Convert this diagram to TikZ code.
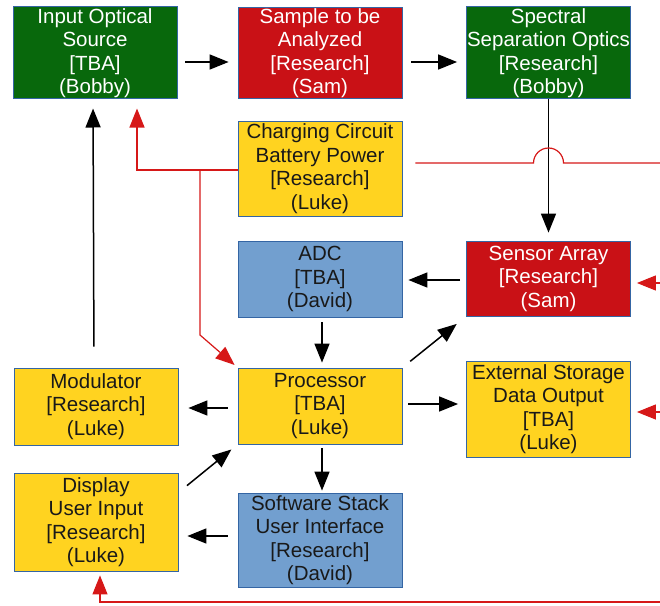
\documentclass[tikz,border=0pt]{standalone}
\usepackage{fontspec}
\setmainfont{Liberation Sans}
\usetikzlibrary{arrows.meta, positioning, calc}

\definecolor{boxgreen}{RGB}{8,104,12}
\definecolor{boxred}{RGB}{201,17,22}
\definecolor{boxyellow}{RGB}{255,211,32}
\definecolor{boxblue}{RGB}{114,159,207}
\definecolor{boxline}{RGB}{52,101,164}
\definecolor{powerred}{RGB}{214,24,24}

\begin{document}
\begin{tikzpicture}[
    x=1pt, y=-1pt,
    block/.style={rectangle, draw=boxline, line width=0.8pt, minimum width=164pt, inner sep=0pt, align=center, font=\fontsize{20.5}{23.5}\selectfont},
    greenbox/.style={block, fill=boxgreen, text=white},
    redbox/.style={block, fill=boxred, text=white},
    yellowbox/.style={block, fill=boxyellow, text=black!90},
    bluebox/.style={block, fill=boxblue, text=black!90},
    arrow/.style={-{Triangle[length=19pt,width=15pt]}, line width=1.5pt},
    power/.style={-{Triangle[length=19pt,width=15pt]}, line width=1.2pt, draw=powerred}
]
\useasboundingbox (0,0) rectangle (660,605);

% ==== Optical path ====
\node[greenbox, minimum height=91pt] (input) at (95,52.5) {\strut Input Optical\\Source\\{}[TBA]\\(Bobby)};
\node[redbox, minimum height=91pt] (sample) at (320,52.5) {\strut Sample to be\\Analyzed\\{}[Research]\\(Sam)};
\node[greenbox, minimum height=91pt] (spectral) at (548.5,52.5) {\strut Spectral\\Separation Optics\\{}[Research]\\(Bobby)};

% ==== Power ====
\node[yellowbox, minimum height=95pt] (charge) at (320,168.5) {Charging Circuit\\Battery Power\\{}[Research]\\(Luke)};

% ==== Sensing ====
\node[bluebox, minimum height=76pt] (adc) at (320,279) {ADC\\{}[TBA]\\(David)};
\node[redbox, minimum height=75pt] (sensor) at (548.5,278.5) {Sensor Array\\{}[Research]\\(Sam)};

% ==== Processing ====
\node[yellowbox, minimum height=77pt] (mod) at (96,406.5) {Modulator\\{}[Research]\\(Luke)};
\node[yellowbox, minimum height=76pt] (proc) at (320,406) {Processor\\{}[TBA]\\(Luke)};
\node[yellowbox, minimum height=96pt] (ext) at (548.5,409) {External Storage\\Data Output\\{}[TBA]\\(Luke)};

% ==== User side ====
\node[yellowbox, minimum height=98pt] (disp) at (96,522) {Display\\User Input\\{}[Research]\\(Luke)};
\node[bluebox, minimum height=94pt] (soft) at (320,540) {Software Stack\\User Interface\\{}[Research]\\(David)};

% ==== Relations ====
\draw[arrow, shorten <=8pt, shorten >=9pt] ([yshift=-9.5pt]input.east) -- ([yshift=-9.5pt]sample.west);
\draw[arrow, shorten <=9pt, shorten >=9pt] ([yshift=-9.5pt]sample.east) -- ([yshift=-9.5pt]spectral.west);
\draw[arrow, shorten >=8pt] (spectral.south) -- (sensor.north);
\draw[arrow, shorten <=6pt, shorten >=6pt] ([yshift=-1.5pt]sensor.west) -- ([yshift=-1.5pt]sensor.west -| adc.east);
\draw[arrow, shorten <=5pt, shorten >=5pt] ([xshift=2pt]adc.south) -- ([xshift=2pt]proc.north);
\draw[arrow, shorten <=10pt, shorten >=12pt] (proc.north east) -- (sensor.south west);
\draw[arrow, shorten <=6pt, shorten >=8pt] ([yshift=2pt]proc.east) -- ([yshift=2pt]proc.east -| ext.west);
\draw[arrow, shorten <=10pt, shorten >=10pt] ([yshift=-2pt]proc.west) -- ([yshift=-2pt]proc.west -| mod.east);
\draw[arrow, shorten <=4pt, shorten >=2pt] ([xshift=2pt]proc.south) -- ([xshift=2pt]soft.north);
\draw[arrow, shorten <=10pt, shorten >=9pt] ([yshift=4pt]soft.west) -- ([yshift=4pt]soft.west -| disp.east);
\draw[arrow, shorten <=11pt, shorten >=8pt] ([yshift=-20pt]disp.north east) -- (proc.south west);
\draw[arrow, shorten <=21pt, shorten >=10pt] ([xshift=-2pt]mod.north) -- ([xshift=-2pt]input.south);

% ==== Power lines ====
\coordinate (tap) at (200,335);
\coordinate (busTop) at (660,163);
\coordinate (feedS) at (660,283);
\coordinate (feedE) at (660,412);
\coordinate (feedD) at (660,602);
\draw[power, shorten >=10pt] ([yshift=-1.5pt]charge.west) -| ([xshift=42pt]input.south);
\draw[power, shorten >=4pt] ([yshift=-1.5pt]charge.west) -| (tap) -- (proc.north west);
\draw[power, -] ($(charge.east |- busTop)+(13,0)$) -- ($(spectral.south |- busTop)+(-15,0)$)
    arc[start angle=180, end angle=0, radius=15pt] -- (busTop);
\draw[power, shorten >=6pt] (feedS) -- (feedS -| sensor.east);
\draw[power, shorten >=6pt] (feedE) -- (feedE -| ext.east);
\draw[power, shorten >=4pt] (feedD) -| ([xshift=4pt]disp.south);

\end{tikzpicture}
\end{document}
